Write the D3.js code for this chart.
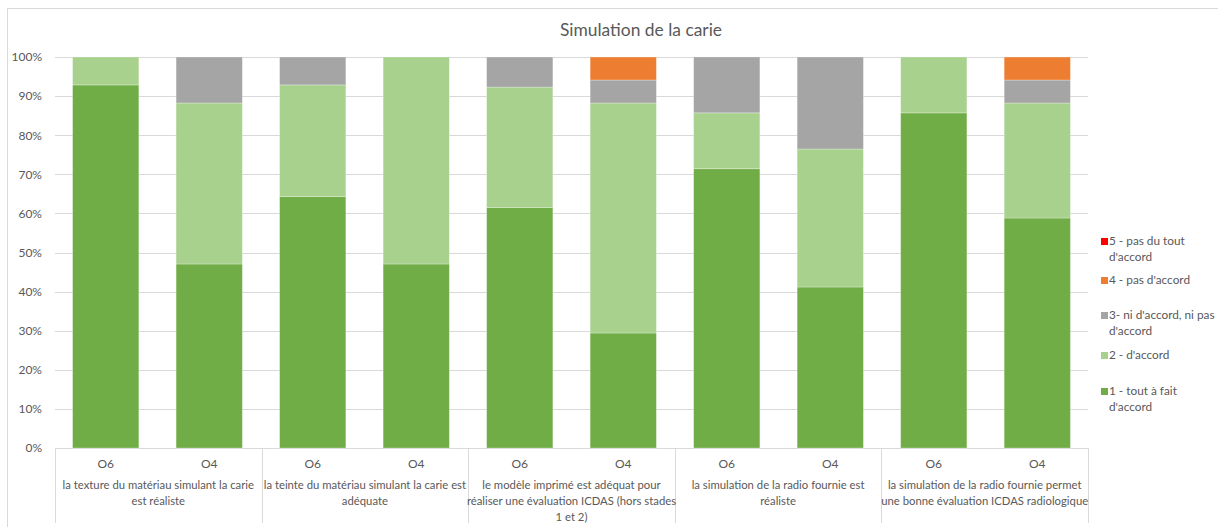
<!DOCTYPE html>
<html>
<head>
<meta charset="utf-8">
<script src="https://cdn.jsdelivr.net/npm/d3@7"></script>
<style>
  html, body { margin: 0; padding: 0; background: #fff; }
  svg { display: block; font-family: "Lato", "Noto Sans", sans-serif; }
</style>
</head>
<body>
<svg id="chart" width="1218" height="527"></svg>
<script>
// ---- data ----
const title = "Simulation de la carie";
const groups = [
  ["la texture du matériau simulant la carie", "est réaliste"],
  ["la teinte du matériau simulant la carie est", "adéquate"],
  ["le modèle imprimé est adéquat pour", "réaliser une évaluation ICDAS (hors stades", "1 et 2)"],
  ["la simulation de la radio fournie est", "réaliste"],
  ["la simulation de la radio fournie permet", "une bonne évaluation ICDAS radiologique"]
];
const subLabels = ["O6", "O4"];
const seriesNames = ["1 - tout à fait d'accord", "2 - d'accord", "3- ni d'accord, ni pas d'accord", "4 - pas d'accord", "5 - pas du tout d'accord"];
const legendLines = [
  ["1 - tout à fait", "d'accord"],
  ["2 - d'accord"],
  ["3- ni d'accord, ni pas", "d'accord"],
  ["4 - pas d'accord"],
  ["5 - pas du tout", "d'accord"]
];
const colors = ["#70AD47", "#A9D18E", "#A5A5A5", "#ED7D31", "#FF0000"];
// values in % per bar (order: g1 O6, g1 O4, g2 O6, g2 O4, ...)
const s1 = [92.86, 47.06, 64.29, 47.06, 61.54, 29.41, 71.43, 41.18, 85.71, 58.82];
const s2 = [7.14, 41.18, 28.57, 52.94, 30.77, 58.82, 14.29, 35.29, 14.29, 29.41];
const s3 = [0, 11.76, 7.14, 0, 7.69, 5.88, 14.29, 23.53, 0, 5.88];
const s4 = [0, 0, 0, 0, 0, 5.88, 0, 0, 0, 5.88];
const s5 = [0, 0, 0, 0, 0, 0, 0, 0, 0, 0];
const yTicks = [0, 10, 20, 30, 40, 50, 60, 70, 80, 90, 100];

// ---- layout ----
const svg = d3.select("#chart");
const L = 55, R = 1088, T = 57, B = 448, axisBottom = 523;
const textColor = "#595959", gridColor = "#D9D9D9";

const bars = [];
groups.forEach((g, gi) => subLabels.forEach((s, si) => bars.push({ id: gi * 2 + si, g: gi, sub: s })));
const series = [s1, s2, s3, s4, s5];
const table = bars.map(b => {
  const o = { id: b.id };
  series.forEach((s, k) => o["k" + k] = s[b.id]);
  return o;
});
const keys = series.map((s, k) => "k" + k);
const stacked = d3.stack().keys(keys)(table);

const x = d3.scaleBand().domain(bars.map(b => b.id)).range([L, R]).paddingInner(0.36).paddingOuter(0.17);
const xg = d3.scaleBand().domain(groups.map((g, i) => i)).range([L, R]);
const y = d3.scaleLinear().domain([0, 100]).range([B, T]);

// outer frame
svg.append("rect").attr("x", 7.5).attr("y", 8.5).attr("width", 1230).attr("height", 540)
  .attr("fill", "none").attr("stroke", "#D9D9D9");

// title
svg.append("text").attr("x", 641).attr("y", 36).attr("text-anchor", "middle")
  .attr("fill", textColor).style("font-size", "17.4px").text(title);

// gridlines
svg.append("g").selectAll("line").data(yTicks).join("line")
  .attr("x1", L).attr("x2", R).attr("y1", d => Math.round(y(d)) + 0.5).attr("y2", d => Math.round(y(d)) + 0.5)
  .attr("stroke", gridColor).attr("stroke-width", 1);

// y axis labels
const yAxis = d3.axisLeft(y).tickValues(yTicks).tickFormat(d => d + "%").tickSize(0).tickPadding(0);
const ya = svg.append("g").attr("transform", `translate(${42},0)`).call(yAxis);
ya.select(".domain").remove();
ya.selectAll("text").attr("fill", textColor).style("font-size", "12px").style("font-family", "Lato, sans-serif");

// bars
svg.append("g").selectAll("g").data(stacked).join("g")
  .attr("fill", (d, i) => colors[i])
  .selectAll("rect").data(d => d).join("rect")
  .attr("x", d => x(d.data.id)).attr("width", x.bandwidth())
  .attr("y", d => y(d[1])).attr("height", d => Math.max(0, y(d[0]) - y(d[1])))
  .attr("stroke", "#fff").attr("stroke-opacity", 0.35).attr("stroke-width", 0.8);

// group separators
const sepX = groups.map((g, i) => xg(i)).concat([R]);
svg.append("g").selectAll("line").data(sepX).join("line")
  .attr("x1", d => Math.round(d) + 0.5).attr("x2", d => Math.round(d) + 0.5)
  .attr("y1", B).attr("y2", axisBottom).attr("stroke", gridColor);

// sub labels
svg.append("g").selectAll("text").data(bars).join("text")
  .attr("x", d => x(d.id) + x.bandwidth() / 2).attr("y", 468).attr("text-anchor", "middle")
  .attr("fill", textColor).style("font-size", "12px").text(d => d.sub);

// group labels
const gl = svg.append("g").selectAll("text").data(groups).join("text")
  .attr("text-anchor", "middle").attr("fill", textColor).style("font-size", "11.3px");
gl.each(function (lines, i) {
  const t = d3.select(this);
  lines.forEach((ln, j) => t.append("tspan").attr("x", xg(i) + xg.bandwidth() / 2).attr("y", 489 + j * 16).text(ln));
});

// legend
const legY = [394, 358, 318, 283, 244];
const lg = svg.append("g");
legendLines.forEach((lines, k) => {
  const yy = legY[k];
  lg.append("rect").attr("x", 1101).attr("y", yy - 6).attr("width", 7).attr("height", 7).attr("fill", colors[k]);
  const t = lg.append("text").attr("fill", textColor).style("font-size", "11.8px");
  lines.forEach((ln, j) => t.append("tspan").attr("x", 1109).attr("y", yy + 1 + j * 15.5).text(ln));
});
</script>
</body>
</html>
